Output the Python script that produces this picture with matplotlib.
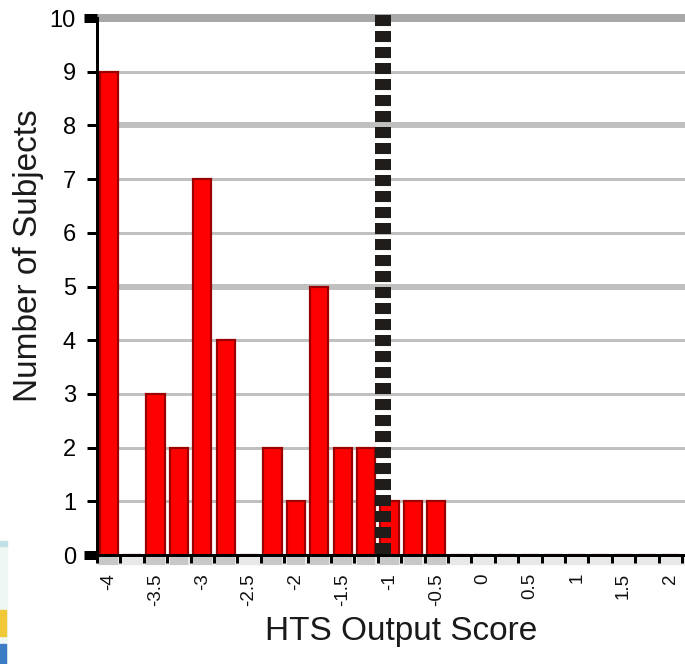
import matplotlib
matplotlib.use("Agg")
import matplotlib.pyplot as plt
from matplotlib.patches import Rectangle

plt.rcParams['font.family'] = ['Liberation Sans', 'DejaVu Sans']

# HTS output score categories (bin starts) and number of subjects per bin
scores = ['-4', '-3.75', '-3.5', '-3.25', '-3', '-2.75', '-2.5', '-2.25',
          '-2', '-1.75', '-1.5', '-1.25', '-1', '-0.75', '-0.5', '-0.25',
          '0', '0.25', '0.5', '0.75', '1', '1.25', '1.5', '1.75', '2']
counts = [9, 0, 3, 2, 7, 4, 0, 2, 1, 5, 2, 2, 1, 1, 1, 0,
          0, 0, 0, 0, 0, 0, 0, 0, 0]
y_ticks = [0, 1, 2, 3, 4, 5, 6, 7, 8, 9, 10]
cutoff_pos = 11.72   # dashed cut-off line, in category units

W, H = 685, 664
PX = 0.72  # points per pixel at dpi 100

fig = plt.figure(figsize=(W / 100, H / 100), dpi=100)
ax = fig.add_axes([97 / W, 109 / H, 588 / W, 537 / H])

n = len(scores)
xs = list(range(n))
ax.set_xlim(-0.5, -0.5 + 588 / 23.4)
ax.set_ylim(0, 10)

# gridlines, heavier at 5, 8, 10
for yv in y_ticks[1:]:
    if yv == 10:
        ax.axhline(yv, color='#A8A8A8', lw=8 * PX, zorder=1, clip_on=False)
    elif yv in (5, 8):
        ax.axhline(yv, color='#C0C0C0', lw=6 * PX, zorder=1)
    else:
        ax.axhline(yv, color='#C0C0C0', lw=3 * PX, zorder=1)

# bars
ax.bar(xs, counts, width=0.77, color='#FF0000', edgecolor='#9B0000',
       linewidth=1.6, zorder=3)

# light shadow band under the axis
ax.add_patch(Rectangle((0, -9 / 537), 1, 7 / 537, transform=ax.transAxes,
                       color='#E8E8E8', clip_on=False, zorder=0))
shadow_x = [x for x, c in zip(xs, counts) if c > 0]
ax.bar(shadow_x, [-0.16] * len(shadow_x), bottom=-0.03, width=0.8,
       color='#C8C8C8', clip_on=False, zorder=0.5)

# dashed cut-off line
ax.plot([cutoff_pos, cutoff_pos], [10.05, 0], color='#201C1A', lw=16 * PX,
        linestyle=(0, (0.69, 0.31)), solid_capstyle='butt',
        dash_capstyle='butt', zorder=4, clip_on=False)

# axes styling
for side in ('top', 'right'):
    ax.spines[side].set_visible(False)
for side in ('left', 'bottom'):
    ax.spines[side].set_color('black')
    ax.spines[side].set_linewidth(3 * PX)
    ax.spines[side].set_zorder(5)

ax.set_yticks(y_ticks)
ax.set_yticklabels([str(v) for v in y_ticks])
ax.tick_params(axis='y', direction='out', length=10 * PX, width=3 * PX,
               pad=8, labelsize=17, colors='black')
for t in (ax.yaxis.get_major_ticks()[0], ax.yaxis.get_major_ticks()[-1]):
    t.tick1line.set_markersize(13 * PX)
    t.tick1line.set_markeredgewidth(9 * PX)

ax.set_xticks(xs)
ax.set_xticklabels([s if i % 2 == 0 else '' for i, s in enumerate(scores)],
                   rotation=90)
ax.set_xticks([x - 0.5 for x in xs] + [n - 0.5], minor=True)
ax.tick_params(axis='x', which='major', length=0, pad=13, labelsize=13.5,
               colors='#111111')
ax.tick_params(axis='x', which='minor', direction='out', length=8 * PX,
               width=3 * PX, color='black')

ax.set_xlabel('HTS Output Score', fontsize=24, color='#1A1A1A')
ax.xaxis.set_label_coords((401 - 97) / 588, (555 - 616) / 537)
ax.set_ylabel('Number of Subjects', fontsize=24, color='#1A1A1A')
ax.yaxis.set_label_coords((44 - 97) / 588, (555 - 256) / 537)

# stray fragment of a neighbouring image at the lower-left edge
fig.patches.append(Rectangle((0, 0), 7 / W, 123 / H, transform=fig.transFigure,
                             color='#EEF7F4', zorder=0))
fig.patches.append(Rectangle((0, 118 / H), 7 / W, 5 / H, transform=fig.transFigure,
                             color='#BFE0E4', zorder=0))
fig.patches.append(Rectangle((0, 28 / H), 6 / W, 26 / H, transform=fig.transFigure,
                             color='#F0C838', zorder=0))
fig.patches.append(Rectangle((0, 0), 6 / W, 20 / H, transform=fig.transFigure,
                             color='#3C7CC4', zorder=0))

fig.savefig('out.png', dpi=100)
